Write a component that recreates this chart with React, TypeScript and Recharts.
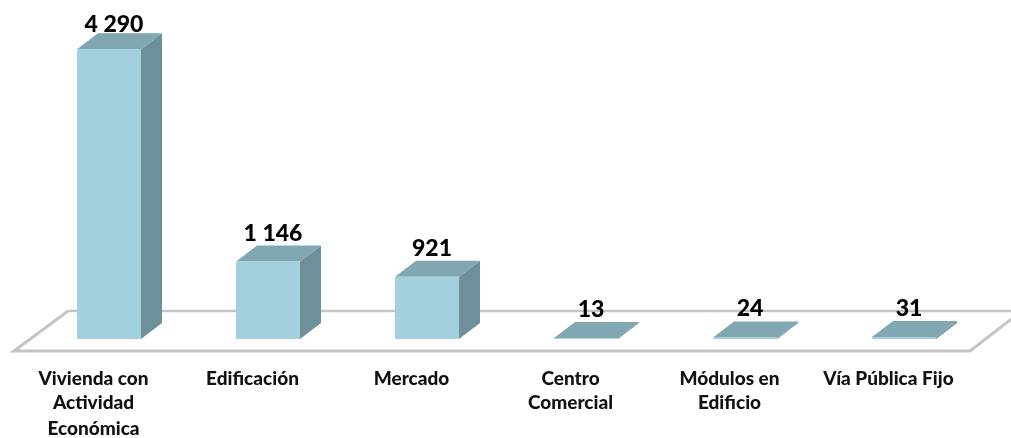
import { BarChart, Bar, XAxis, YAxis, LabelList, Customized } from 'recharts';

const categories = ['Vivienda con Actividad Económica', 'Edificación', 'Mercado', 'Centro Comercial', 'Módulos en Edificio', 'Vía Pública Fijo'];
const values = [4290, 1146, 921, 13, 24, 31];
const tickLines = [['Vivienda con', 'Actividad', 'Económica'], ['Edificación'], ['Mercado'], ['Centro', 'Comercial'], ['Módulos en', 'Edificio'], ['Vía Pública Fijo']];

const data = categories.map((name, i) => ({ name, value: values[i] }));

const FONT = 'Lato, "Open Sans", sans-serif';
const DEPTH_X = 21;
const DEPTH_Y = 16;

function Floor() {
  return (
    <g>
      <polyline points="68,311 1011,311" fill="none" stroke="#c4c4c4" strokeWidth={2.5} />
      <polyline points="68,311 14,351 970,351 1022,311" fill="none" stroke="#c4c4c4" strokeWidth={3} />
    </g>
  );
}

function Box3D(props: any) {
  const { x, y, width, height } = props;
  const right = x + width;
  const bottom = y + height;
  return (
    <g>
      <polygon
        points={`${right},${y} ${right + DEPTH_X},${y - DEPTH_Y} ${right + DEPTH_X},${bottom - DEPTH_Y} ${right},${bottom}`}
        fill="#6e909b"
      />
      <polygon
        points={`${x},${y} ${x + DEPTH_X},${y - DEPTH_Y} ${right + DEPTH_X},${y - DEPTH_Y} ${right},${y}`}
        fill="#81a7b3"
      />
      <rect x={x} y={y} width={width} height={height} fill="#a2d0de" />
    </g>
  );
}

function CategoryTick(props: any) {
  const { x, index } = props;
  const lineY = [385, 409, 435];
  return (
    <text x={x - 15} textAnchor="middle" fontFamily={FONT} fontWeight={900} fontSize={19} fill="#111">
      {tickLines[index].map((line, i) => (
        <tspan key={line} x={x - 15} y={lineY[i]}>
          {line}
        </tspan>
      ))}
    </text>
  );
}

function ValueLabel(props: any) {
  const { x, y, width, value } = props;
  const text = value >= 1000 ? `${Math.floor(value / 1000)} ${String(value % 1000).padStart(3, '0')}` : String(value);
  // the tallest label stops at the top of the picture instead of clearing its bar
  return (
    <text x={x + width / 2 + 5} y={Math.max(y - 21, 32)} textAnchor="middle" fontFamily={FONT} fontWeight={900} fontSize={23} fill="#000">
      {text}
    </text>
  );
}

export default function App() {
  return (
    <div style={{ position: 'absolute', left: 0, top: 0, width: 1011, height: 438, background: '#fff', filter: 'blur(0.4px)' }}>
      <BarChart width={1011} height={438} data={data} margin={{ top: 35, right: 28, bottom: 0, left: 29 }}>
        <Customized component={Floor} />
        <XAxis dataKey="name" height={99} axisLine={false} tickLine={false} interval={0} tick={CategoryTick} />
        <YAxis hide domain={[0, 4500]} />
        <Bar dataKey="value" barSize={64} shape={Box3D} isAnimationActive={false}>
          <LabelList dataKey="value" content={ValueLabel} />
        </Bar>
      </BarChart>
    </div>
  );
}
